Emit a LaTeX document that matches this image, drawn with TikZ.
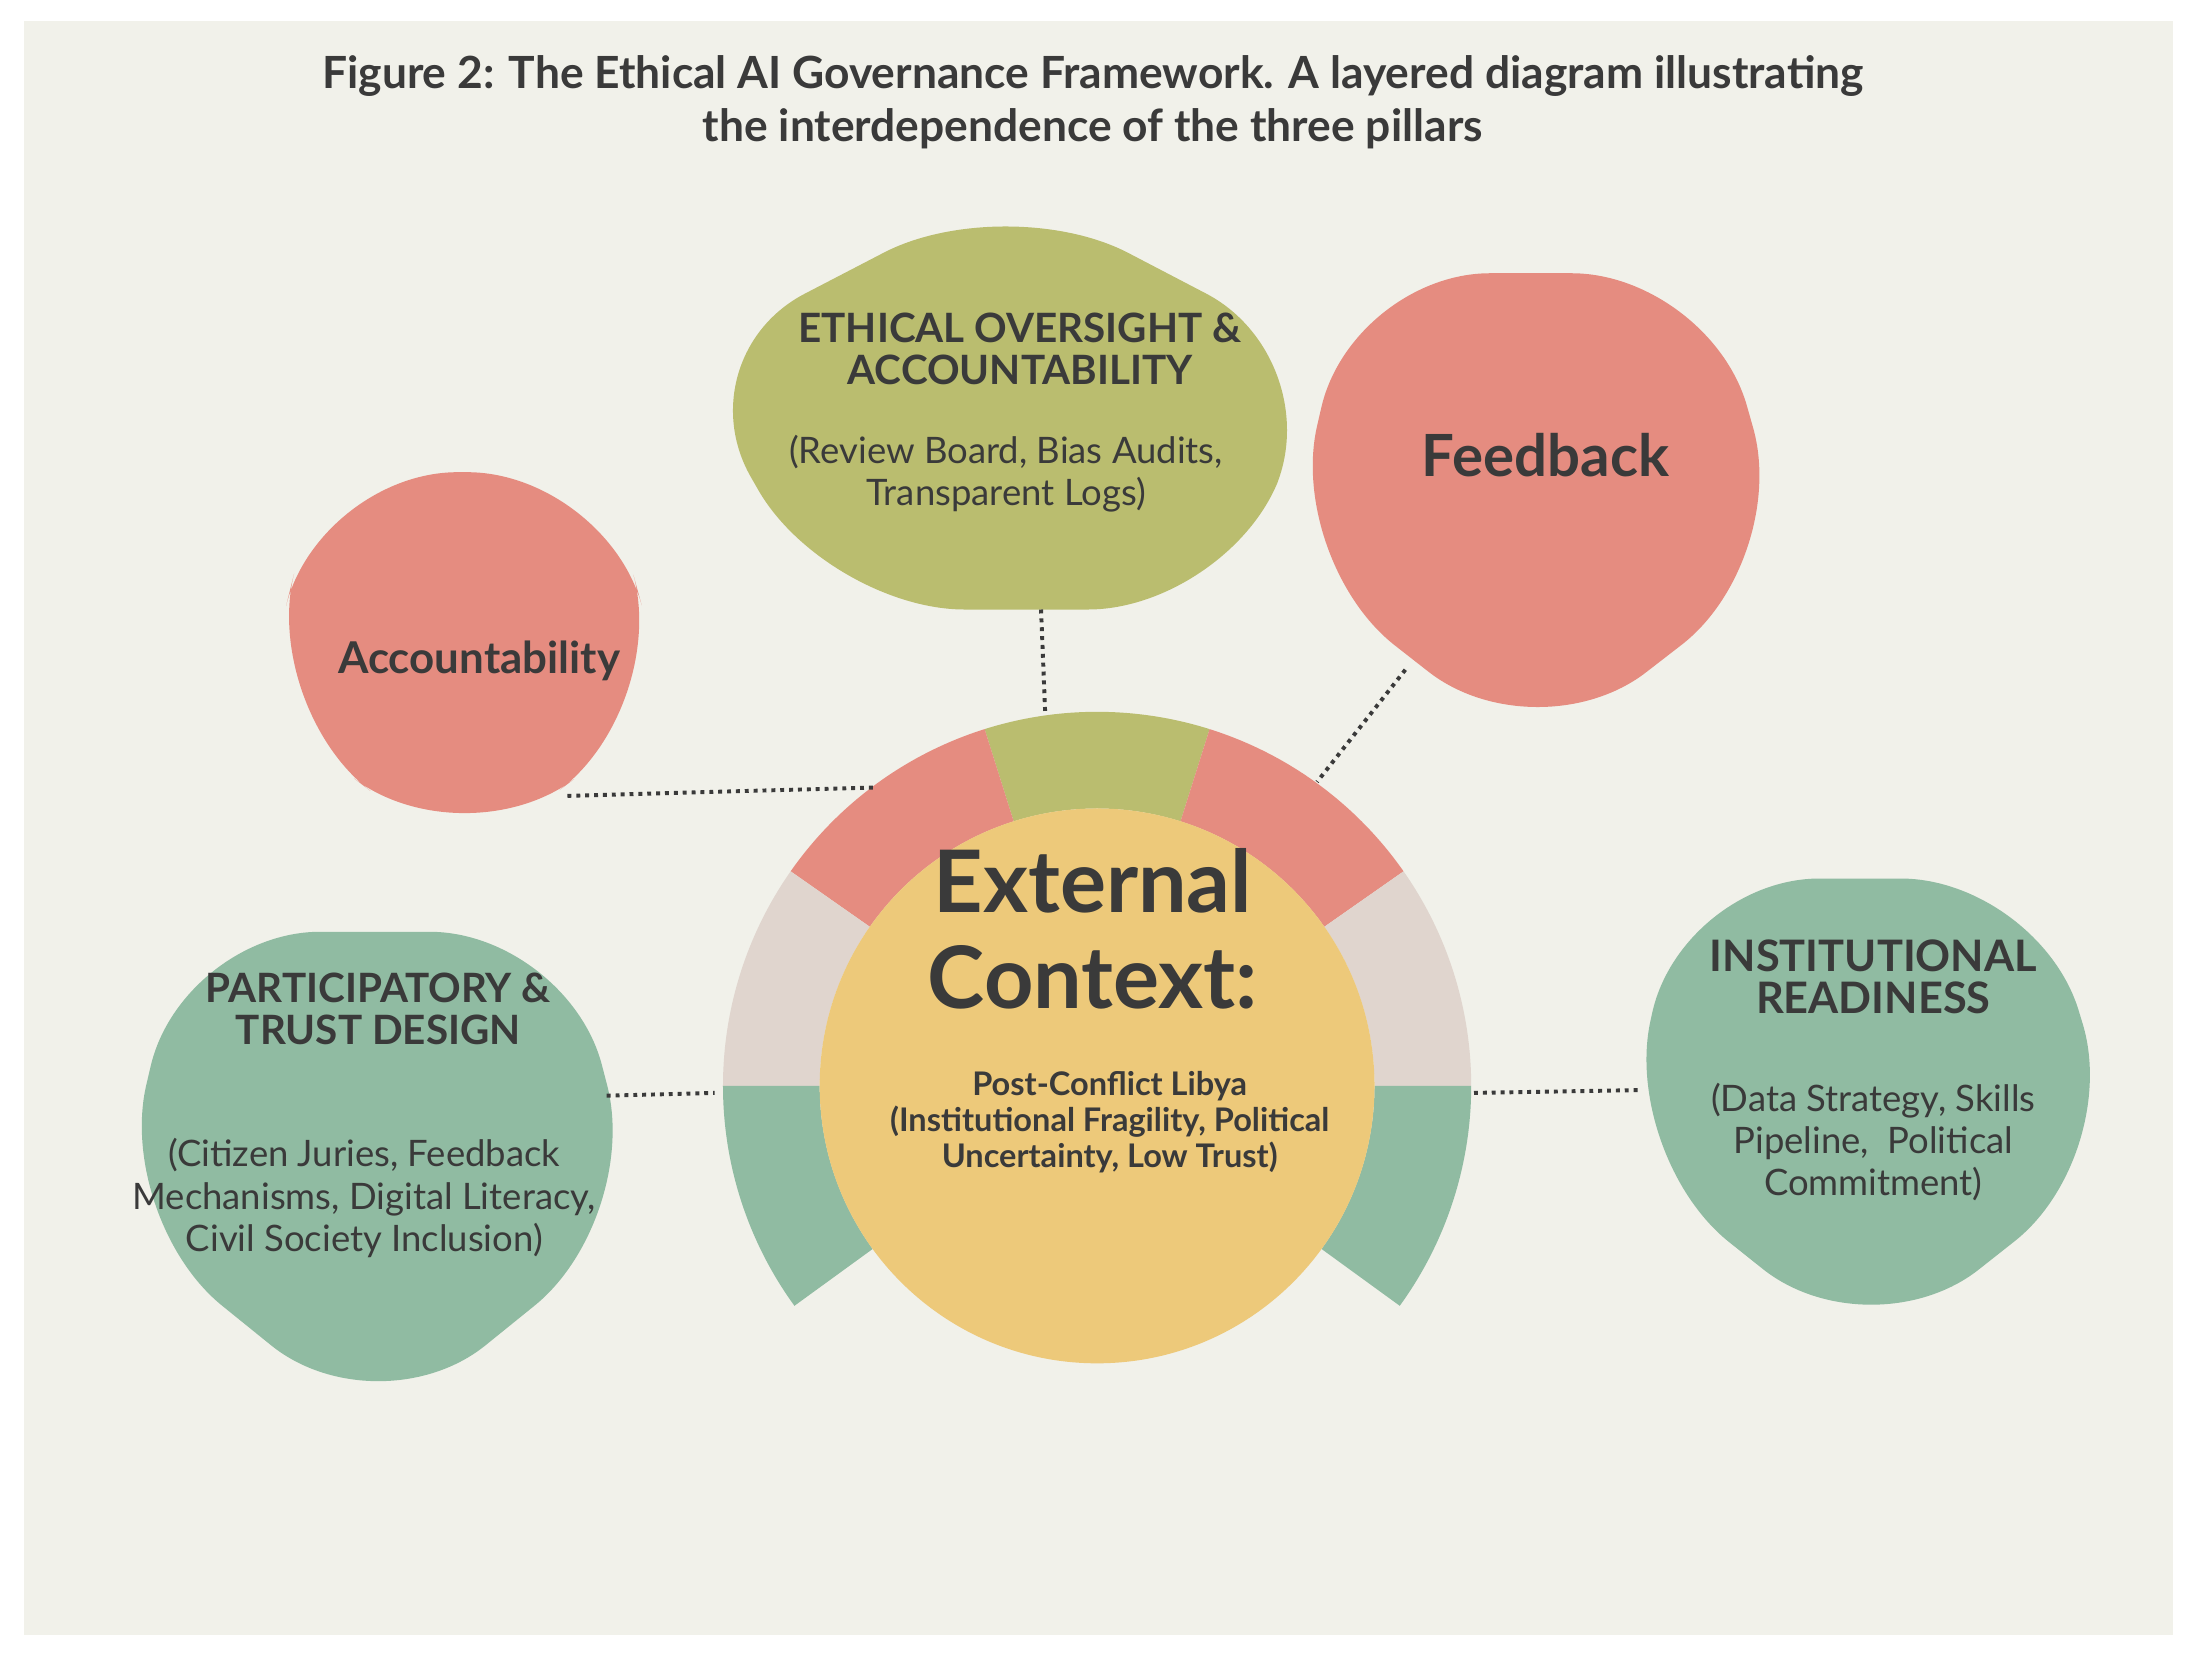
\documentclass[tikz,border=0pt]{standalone}
\usepackage{fontspec}
\setmainfont{Lato}
\begin{document}
\definecolor{bg}{HTML}{F1F1EA}
\definecolor{tx}{HTML}{3A3A3A}
\definecolor{red}{HTML}{E58C80}
\definecolor{oli}{HTML}{BABD6F}
\definecolor{grn}{HTML}{90BBA2}
\definecolor{sand}{HTML}{E0D5CE}
\definecolor{yel}{HTML}{EDC97A}
\newcommand{\ringseg}[3]{\fill[#1] (#2:267) arc[start angle=#2,end angle=#3,radius=267] -- (#3:198) arc[start angle=#3,end angle=#2,radius=198] -- cycle;}
\begin{tikzpicture}[x=0.01cm,y=-0.01cm,
  pent/.style={rounded corners=28pt},
  lbl/.style={text=tx,align=center,font=\fontsize{7.4}{8.6}\selectfont},
  hdr/.style={text=tx,align=center,font=\bfseries\fontsize{8.2}{8.6}\selectfont},
  dot/.style={densely dotted,line width=0.8pt,tx}]
\useasboundingbox (0,0) rectangle (1568,1181);
\fill[white] (0,0) rectangle (1568,1181);
\fill[bg] (17,15) rectangle (1551,1167);
\node[text=tx,align=center,font=\bfseries\fontsize{9}{10.6}\selectfont] (title) at (780,73) {Figure 2: The Ethical AI Governance Framework. A layered diagram illustrating\\the interdependence of the three pillars};
% pentagons
\fill[oli,pent] (718,135) -- (948,255) -- (875,435) -- (590,435) -- (487,255) -- cycle;
\fill[red,pent] (228,337) -- (432,337) -- (478,505) -- (331,615) -- (186,505) -- cycle;
\fill[red,pent] (965,195) -- (1220,195) -- (1278,400) -- (1097,540) -- (918,400) -- cycle;
\fill[grn,pent] (130,665) -- (405,665) -- (458,870) -- (270,1022) -- (82,870) -- cycle;
\fill[grn,pent] (1200,627) -- (1455,627) -- (1515,825) -- (1335,967) -- (1157,825) -- cycle;
% ring
\begin{scope}[x=0.01cm,y=0.01cm,shift={(783,-775)}]
\ringseg{oli}{72.5}{107.5}
\ringseg{red}{107.5}{145}
\ringseg{red}{35}{72.5}
\ringseg{sand}{145}{180}
\ringseg{sand}{0}{35}
\ringseg{grn}{180}{216}
\ringseg{grn}{-36}{0}
\fill[yel] (0,0) circle[radius=198];
\end{scope}
% connector coordinates
\coordinate (e1) at (743,435); \coordinate (e2) at (746,510);
\coordinate (f1) at (1003,478); \coordinate (f2) at (940,558);
\coordinate (a1) at (405,568); \coordinate (a2) at (625,562);
\coordinate (p1) at (433,782); \coordinate (p2) at (510,780);
\coordinate (i1) at (1052,780); \coordinate (i2) at (1170,778);
\draw[dot] (e1) -- (e2); \draw[dot] (f1) -- (f2); \draw[dot] (a1) -- (a2);
\draw[dot] (p1) -- (p2); \draw[dot] (i1) -- (i2);
% texts
\node[hdr] (eh) at (728,249) {ETHICAL OVERSIGHT \&\\ACCOUNTABILITY};
\node[lbl] (eb) at (718,338) {(Review Board, Bias Audits,\\Transparent Logs)};
\node[text=tx,font=\bfseries\fontsize{8.9}{10}\selectfont] (acc) at (342,472) {Accountability};
\node[text=tx,font=\bfseries\fontsize{11.8}{13}\selectfont] (fb) at (1103,325) {Feedback};
\node[hdr] (ph) at (270,720) {PARTICIPATORY \&\\TRUST DESIGN};
\node[lbl] (pb) at (260,855) {(Citizen Juries, Feedback\\Mechanisms, Digital Literacy,\\Civil Society Inclusion)};
\node[hdr,font=\bfseries\fontsize{8.8}{8.6}\selectfont] (ih) at (1337,697) {INSTITUTIONAL\\READINESS};
\node[lbl] (ib) at (1337,815) {(Data Strategy, Skills\\Pipeline,\ \ Political\\Commitment)};
\node[text=tx,align=center,font=\bfseries\fontsize{17.5}{19.5}\selectfont] (ext) at (780,663) {External\\Context:};
\node[text=tx,align=center,font=\bfseries\fontsize{6.6}{7.3}\selectfont] (sub) at (792,801) {Post-Conflict Libya\\(Institutional Fragility, Political\\Uncertainty, Low Trust)};
\end{tikzpicture}
\end{document}
